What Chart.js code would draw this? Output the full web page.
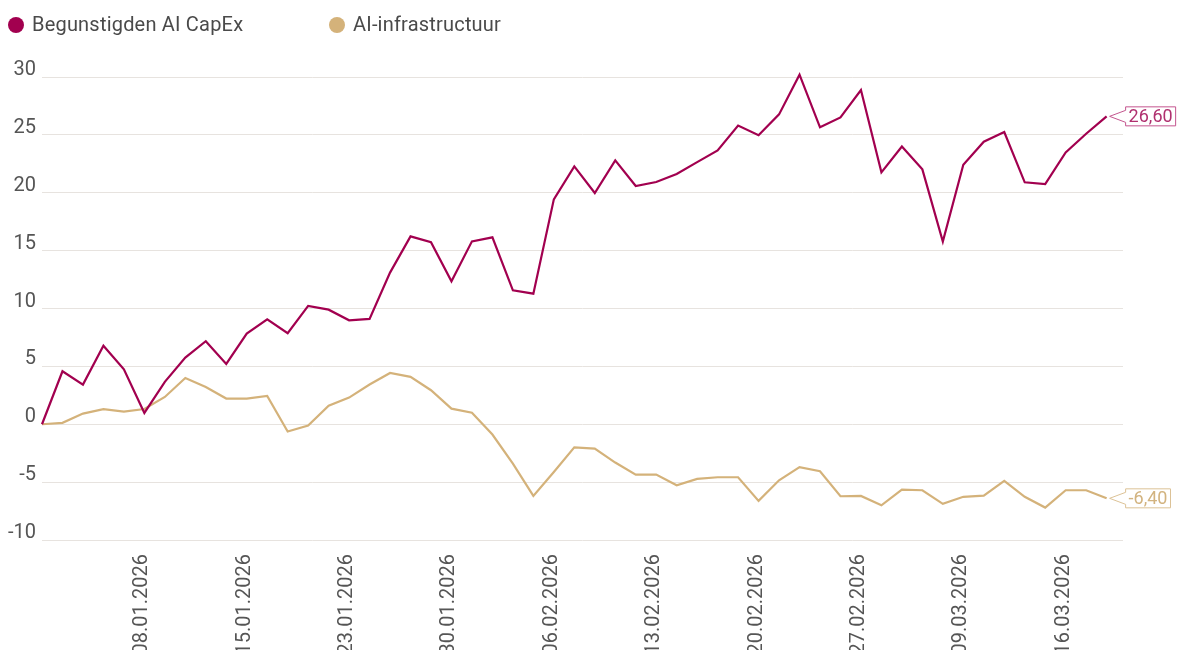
<!DOCTYPE html>
<html>
<head>
<meta charset="utf-8">
<script src="https://cdn.jsdelivr.net/npm/chart.js@4.4.1/dist/chart.umd.min.js"></script>
<style>
  html, body { margin: 0; padding: 0; background: #fff; overflow: hidden; }
  #wrap { position: relative; width: 1177px; height: 650px; }
  #legend { position: absolute; top: 0; left: 0; height: 50px; font-family: Roboto, sans-serif; font-size: 20px; color: #4a4a4a; }
  #legend span.item { position: absolute; top: 12px; white-space: nowrap; letter-spacing: 0.2px; }
  #legend span.dot { position: absolute; top: 17px; width: 16px; height: 16px; border-radius: 50%; }
  #box { position: absolute; top: 0; left: 0; width: 1177px; height: 650px; }
</style>
</head>
<body>
<div id="wrap">
  <div id="box"><canvas id="chart"></canvas></div>
  <div id="legend"></div>
</div>
<script>
// data
const dates = [
  "31.12.2025", "02.01.2026", "05.01.2026", "06.01.2026", "07.01.2026",
  "08.01.2026", "09.01.2026", "12.01.2026", "13.01.2026", "14.01.2026",
  "15.01.2026", "16.01.2026", "19.01.2026", "20.01.2026", "21.01.2026",
  "23.01.2026", "26.01.2026", "27.01.2026", "28.01.2026", "29.01.2026",
  "30.01.2026", "02.02.2026", "03.02.2026", "04.02.2026", "05.02.2026",
  "06.02.2026", "09.02.2026", "10.02.2026", "11.02.2026", "12.02.2026",
  "13.02.2026", "16.02.2026", "17.02.2026", "18.02.2026", "19.02.2026",
  "20.02.2026", "23.02.2026", "24.02.2026", "25.02.2026", "26.02.2026",
  "27.02.2026", "02.03.2026", "03.03.2026", "04.03.2026", "05.03.2026",
  "09.03.2026", "10.03.2026", "11.03.2026", "12.03.2026", "13.03.2026",
  "16.03.2026", "17.03.2026", "18.03.2026"
];
const capexValues = [
  0, 4.58, 3.43, 6.79, 4.75, 0.98, 3.66, 5.76, 7.17, 5.21,
  7.83, 9.07, 7.86, 10.22, 9.9, 8.98, 9.1, 13.1, 16.23, 15.72,
  12.35, 15.8, 16.15, 11.57, 11.28, 19.43, 22.28, 19.98, 22.8, 20.58,
  20.93, 21.62, 22.65, 23.66, 25.8, 24.97, 26.77, 30.2, 25.65, 26.51,
  28.87, 21.76, 24.0, 22.02, 15.78, 22.42, 24.41, 25.24, 20.9, 20.75,
  23.49, 25.1, 26.6
];
const infraValues = [
  0, 0.12, 0.92, 1.3, 1.1, 1.32, 2.36, 4.0, 3.22, 2.22,
  2.22, 2.45, -0.63, -0.11, 1.61, 2.3, 3.43, 4.43, 4.09, 2.94,
  1.35, 1.0, -0.89, -3.4, -6.19, -4.12, -1.99, -2.1, -3.31, -4.35,
  -4.35, -5.27, -4.72, -4.58, -4.58, -6.62, -4.84, -3.71, -4.06, -6.22,
  -6.19, -7.0, -5.64, -5.7, -6.88, -6.27, -6.16, -4.89, -6.27, -7.2,
  -5.7, -5.7, -6.4
];
const seriesNames = ["Begunstigden AI CapEx", "AI-infrastructuur"];
const yTicks = { min: -10, max: 30, step: 5 };

const colors = ["#a2004f", "#d4b27a"];
const boxText = ["#b0306f", "#d2b37f"];
const boxLine = ["#c4558e", "#dcc296"];

// html legend
const legend = document.getElementById("legend");
const legendX = [8, 329];
seriesNames.forEach((name, i) => {
  const dot = document.createElement("span");
  dot.className = "dot";
  dot.style.left = legendX[i] + "px";
  dot.style.background = colors[i];
  legend.appendChild(dot);
  const t = document.createElement("span");
  t.className = "item";
  t.style.left = (legendX[i] + 24) + "px";
  t.textContent = name;
  legend.appendChild(t);
});

// value box at the end of each line
const endLabels = {
  id: "endLabels",
  afterDatasetsDraw(chart) {
    const ctx = chart.ctx;
    ctx.save();
    ctx.font = "18px Roboto, sans-serif";
    chart.data.datasets.forEach((ds, i) => {
      const meta = chart.getDatasetMeta(i);
      const pt = meta.data[meta.data.length - 1];
      const val = ds.data[ds.data.length - 1].y;
      const txt = val.toFixed(2).replace(".", ",");
      const w = ctx.measureText(txt).width + 6;
      const h = 19;
      const tip = pt.x + 3;
      const left = tip + 16;
      const cy = pt.y;
      ctx.beginPath();
      ctx.moveTo(tip, cy);
      ctx.lineTo(left, cy - 6);
      ctx.lineTo(left, cy - h / 2);
      ctx.lineTo(left + w, cy - h / 2);
      ctx.lineTo(left + w, cy + h / 2);
      ctx.lineTo(left, cy + h / 2);
      ctx.lineTo(left, cy + 6);
      ctx.closePath();
      ctx.fillStyle = "#fff";
      ctx.fill();
      ctx.lineWidth = 1;
      ctx.strokeStyle = boxLine[i];
      ctx.stroke();
      ctx.fillStyle = boxText[i];
      ctx.textBaseline = "middle";
      ctx.textAlign = "left";
      ctx.fillText(txt, left + 3, cy + 1);
    });
    ctx.restore();
  }
};

const chart = new Chart(document.getElementById("chart"), {
  type: "line",
  data: {
    datasets: [
      {
        label: seriesNames[0],
        data: capexValues.map((v, i) => ({ x: i, y: v })),
        borderColor: colors[0],
        borderWidth: 2.2,
        pointRadius: 0,
        tension: 0,
        clip: false
      },
      {
        label: seriesNames[1],
        data: infraValues.map((v, i) => ({ x: i, y: v })),
        borderColor: colors[1],
        borderWidth: 2.2,
        pointRadius: 0,
        tension: 0,
        clip: false
      }
    ]
  },
  options: {
    responsive: true,
    maintainAspectRatio: false,
    animation: false,
    layout: { padding: { top: 77, right: 54, left: 0, bottom: 0 } },
    plugins: {
      legend: { display: false },
      tooltip: { enabled: false }
    },
    scales: {
      x: {
        type: "linear",
        min: 0,
        max: 52.8,
        grid: { display: false, drawTicks: false },
        border: { display: false },
        ticks: {
          stepSize: 5,
          includeBounds: false,
          autoSkip: false,
          maxRotation: 90,
          minRotation: 90,
          padding: 14,
          labelOffset: -2,
          color: "#555",
          font: { family: "Roboto, sans-serif", size: 20 },
          callback: (v) => (Number.isInteger(v) && v > 0 ? dates[v] : "")
        },
        afterFit(scale) { scale.height = 110; }
      },
      y: {
        min: yTicks.min,
        max: yTicks.max,
        grid: { color: "#e7e3df", lineWidth: 1, drawTicks: false },
        border: { display: false },
        ticks: {
          stepSize: yTicks.step,
          padding: 6,
          labelOffset: -7,
          color: "#555",
          font: { family: "Roboto, sans-serif", size: 20 }
        },
        afterFit(scale) { scale.width = 42; }
      }
    }
  },
  plugins: [endLabels]
});
</script>
</body>
</html>
